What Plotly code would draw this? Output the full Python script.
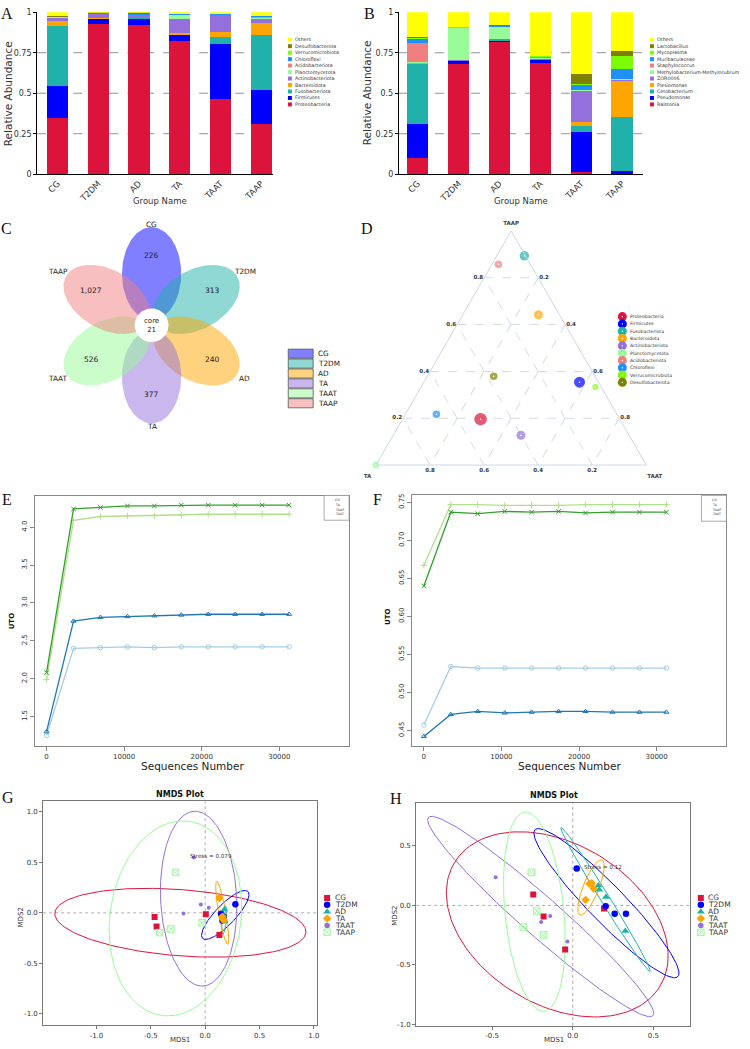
import numpy as np
import plotly.graph_objects as go

W, H = 750, 1049
FONT = "DejaVu Sans"

# ---------------- data ----------------
groups = ["CG", "T2DM", "AD", "TA", "TAAT", "TAAP"]

# Panel A: phylum level (stack order bottom -> top)
phyla = ["Proteobacteria", "Firmicutes", "Fusobacteriota", "Bacteroidota",
         "Actinobacteriota", "Planctomycetota", "Acidobacteriota", "Chloroflexi",
         "Verrucomicrobiota", "Desulfobacterota", "Others"]
proteobacteria = [0.347, 0.929, 0.922, 0.820, 0.465, 0.312]
firmicutes = [0.196, 0.028, 0.039, 0.041, 0.341, 0.210]
fusobacteriota = [0.373, 0.002, 0.002, 0.002, 0.041, 0.335]
bacteroidota = [0.027, 0.006, 0.003, 0.008, 0.033, 0.075]
actinobacteriota = [0.026, 0.026, 0.018, 0.087, 0.104, 0.029]
planctomycetota = [0.002, 0.001, 0.001, 0.024, 0.002, 0.002]
acidobacteriota = [0.001, 0.001, 0.001, 0.002, 0.001, 0.010]
chloroflexi = [0.001, 0.001, 0.002, 0.006, 0.001, 0.003]
verrucomicrobiota = [0.001, 0.001, 0.001, 0.001, 0.002, 0.001]
desulfobacterota = [0.001, 0.001, 0.005, 0.002, 0.002, 0.002]
phylum_others = [0.025, 0.004, 0.006, 0.007, 0.008, 0.021]

# Panel B: genus level
genera = ["Ralstonia", "Pseudomonas", "Cetobacterium", "Plesiomonas", "ZOR0006",
          "Methylobacterium-Methylorubrum", "Staphylococcus", "Muribaculaceae",
          "Mycoplasma", "Lactobacillus", "Others"]
ralstonia = [0.098, 0.678, 0.820, 0.684, 0.014, 0.003]
pseudomonas = [0.212, 0.022, 0.005, 0.020, 0.247, 0.016]
cetobacterium = [0.374, 0.001, 0.004, 0.003, 0.039, 0.332]
plesiomonas = [0.003, 0.001, 0.001, 0.002, 0.022, 0.227]
zor0006 = [0.002, 0.004, 0.002, 0.003, 0.192, 0.008]
methylobacterium = [0.002, 0.196, 0.078, 0.010, 0.006, 0.002]
staphylococcus = [0.122, 0.003, 0.002, 0.004, 0.002, 0.002]
muribaculaceae = [0.024, 0.002, 0.006, 0.002, 0.030, 0.057]
mycoplasma = [0.006, 0.001, 0.001, 0.001, 0.002, 0.084]
lactobacillus = [0.006, 0.001, 0.001, 0.002, 0.065, 0.028]
genus_others = [0.151, 0.091, 0.080, 0.269, 0.381, 0.241]

taxon_colors = ["#DC143C", "#0000FF", "#20B2AA", "#FFA500", "#9370DB", "#98FB98",
                "#F08080", "#1E90FF", "#7CFC00", "#808000", "#FFFF00"]

# Panel C: flower Venn
venn_sets = ["CG", "T2DM", "AD", "TA", "TAAT", "TAAP"]
venn_unique = [226, 313, 240, 377, 526, 1027]
venn_core = 21
venn_rgb = [(0, 0, 255), (32, 178, 170), (255, 165, 0), (147, 112, 219), (152, 251, 152), (240, 128, 128)]

# Panel D: ternary (TAAP top, TA left, TAAT right)
tern_taap = [0.196, 0.354, 0.894, 0.642, 0.127, 0.000, 0.858, 0.217, 0.333, 0.379]
tern_ta = [0.515, 0.070, 0.004, 0.078, 0.400, 1.000, 0.118, 0.668, 0.022, 0.375]
tern_taat = [0.289, 0.576, 0.102, 0.280, 0.473, 0.000, 0.024, 0.115, 0.645, 0.246]
tern_size = [12.5, 11, 9.5, 9, 9, 7, 7.5, 7.5, 6, 7.5]

# Panels E/F: rarefaction
rare_groups = ["CG", "TA", "TAAP", "TAAT"]
rare_colors = ["#A6CEE3", "#1F78B4", "#B2DF8A", "#33A02C"]
rare_symbols = ["circle-open", "triangle-up-open", "cross-thin-open", "x-thin-open"]
seq_depth = [1, 3474, 6947, 10420, 13893, 17366, 20839, 24312, 27785, 31258]
e_cg = [1.25, 2.40, 2.41, 2.42, 2.41, 2.42, 2.42, 2.42, 2.42, 2.42]
e_ta = [1.30, 2.76, 2.81, 2.82, 2.83, 2.84, 2.85, 2.85, 2.85, 2.85]
e_taap = [1.99, 4.09, 4.14, 4.15, 4.15, 4.16, 4.17, 4.17, 4.17, 4.17]
e_taat = [2.08, 4.24, 4.26, 4.28, 4.28, 4.29, 4.29, 4.29, 4.29, 4.29]
f_cg = [0.457, 0.534, 0.532, 0.532, 0.532, 0.532, 0.532, 0.532, 0.532, 0.532]
f_ta = [0.442, 0.471, 0.475, 0.473, 0.474, 0.475, 0.475, 0.474, 0.474, 0.474]
f_taap = [0.667, 0.747, 0.747, 0.746, 0.746, 0.746, 0.747, 0.747, 0.747, 0.747]
f_taat = [0.640, 0.737, 0.735, 0.738, 0.737, 0.738, 0.736, 0.737, 0.737, 0.737]

# Panels G/H: NMDS
nmds_colors = ["#DC143C", "#0000FF", "#20B2AA", "#FFA500", "#9370DB", "#98FB98"]
nmds_symbols = ["square", "circle", "triangle-up", "diamond", "circle", "square-x-open"]
nmds_sizes = [6, 6.5, 7, 6.5, 4, 6.5]

g_cg_x = [-0.465, -0.447, 0.006, 0.131]; g_cg_y = [-0.042, -0.134, -0.013, -0.219]
g_t2dm_x = [0.278, 0.147, 0.159, 0.170]; g_t2dm_y = [0.085, -0.010, -0.075, -0.040]
g_ad_x = [0.177, 0.168, 0.179, 0.165]; g_ad_y = [0.033, -0.030, -0.080, -0.050]
g_ta_x = [0.131, 0.156, 0.163, 0.170]; g_ta_y = [0.147, -0.040, -0.060, -0.070]
g_taat_x = [-0.104, -0.199, -0.040, 0.033]; g_taat_y = [0.546, -0.007, 0.082, 0.049]
g_taap_x = [-0.272, -0.419, -0.315, -0.028]; g_taap_y = [0.399, -0.196, -0.160, -0.098]
g_ell_cx = [-0.228, 0.185, 0.175, 0.157, -0.060, -0.274]
g_ell_cy = [-0.098, -0.021, -0.070, 0.000, 0.140, -0.055]
g_ell_a = [1.159, 0.312, 0.140, 0.315, 0.865, 0.968]
g_ell_b = [0.327, 0.095, 0.020, 0.033, 0.350, 0.603]
g_ell_deg = [-4.85, 48.6, 85.0, 99.2, 92.5, 83.2]
g_stress = "Stress = 0.079"

h_cg_x = [-0.245, -0.181, -0.047, 0.194]; h_cg_y = [0.092, -0.092, -0.370, -0.025]
h_t2dm_x = [0.025, 0.204, 0.260, 0.330]; h_t2dm_y = [0.311, -0.006, -0.070, -0.070]
h_ad_x = [0.159, 0.165, 0.206, 0.326]; h_ad_y = [0.167, 0.133, 0.072, -0.214]
h_ta_x = [0.080, 0.103, 0.118, 0.130]; h_ta_y = [0.047, 0.183, 0.186, 0.142]
h_taat_x = [-0.478, -0.196, -0.140, -0.033]; h_taat_y = [0.238, -0.139, -0.089, -0.303]
h_taap_x = [-0.257, -0.223, -0.307, -0.181]; h_taap_y = [0.278, -0.047, -0.181, -0.248]
h_ell_cx = [-0.096, 0.209, 0.203, 0.113, -0.199, -0.238]
h_ell_cy = [-0.159, 0.019, 0.051, 0.151, -0.093, -0.052]
h_ell_a = [0.856, 0.761, 0.664, 0.241, 1.087, 0.839]
h_ell_b = [0.588, 0.128, 0.030, 0.050, 0.140, 0.183]
h_ell_deg = [125.0, -54.9, -65.5, 74.0, -50.4, 93.9]
h_stress = "Stress = 0.12"

# ---------------- helpers ----------------
def dom_x(x0, x1):
    return [x0 / W, x1 / W]

def dom_y(top, bottom):
    return [1 - bottom / H, 1 - top / H]

def ellipse_xy(cx, cy, a, b, deg, n=160):
    t = np.linspace(0, 2 * np.pi, n)
    th = np.deg2rad(deg)
    x = cx + a * np.cos(t) * np.cos(th) - b * np.sin(t) * np.sin(th)
    y = cy + a * np.cos(t) * np.sin(th) + b * np.sin(t) * np.cos(th)
    return x, y

annotations = []
shapes = []

def text(t, x, y, size, color="#333", bold=False, angle=0, family=FONT,
         xanchor="center", yanchor="middle", xref="x8", yref="y8"):
    annotations.append(dict(text=t, x=x, y=y, xref=xref, yref=yref, showarrow=False,
                            font=dict(size=size, color=color, family=family,
                                      weight="bold" if bold else "normal"),
                            textangle=angle, xanchor=xanchor, yanchor=yanchor,
                            borderpad=0))

fig = go.Figure()

# ---------------- A & B: stacked bars ----------------
phylum_values = [proteobacteria, firmicutes, fusobacteriota, bacteroidota, actinobacteriota,
                 planctomycetota, acidobacteriota, chloroflexi, verrucomicrobiota,
                 desulfobacterota, phylum_others]
genus_values = [ralstonia, pseudomonas, cetobacterium, plesiomonas, zor0006, methylobacterium,
                staphylococcus, muribaculaceae, mycoplasma, lactobacillus, genus_others]
for i, name in enumerate(phyla):
    fig.add_trace(go.Bar(x=groups, y=phylum_values[i], name=name, width=0.52,
                         marker=dict(color=taxon_colors[i], line=dict(width=0)),
                         xaxis="x", yaxis="y"))
for i, name in enumerate(genera):
    fig.add_trace(go.Bar(x=groups, y=genus_values[i], name=name, width=0.52,
                         marker=dict(color=taxon_colors[i], line=dict(width=0)),
                         xaxis="x2", yaxis="y2"))
for ax in ["", "2"]:
    for v in [0.25, 0.5, 0.75]:
        shapes.append(dict(type="line", xref=f"x{ax} domain", yref=f"y{ax}", x0=0, x1=1,
                           y0=v, y1=v, line=dict(color="#777", width=0.8, dash="dash"),
                           layer="below"))

# legends A/B
for i, name in enumerate(reversed(phyla)):
    yy = 36 + i * 6.53
    col = taxon_colors[len(phyla) - 1 - i]
    shapes.append(dict(type="rect", xref="x8", yref="y8", x0=288.7, x1=292.7, y0=yy - 2,
                       y1=yy + 2, fillcolor=col, line=dict(width=0)))
    text(name, 294.7, yy, 4.8, xanchor="left")
for i, name in enumerate(reversed(genera)):
    yy = 36 + i * 6.53
    col = taxon_colors[len(genera) - 1 - i]
    shapes.append(dict(type="rect", xref="x8", yref="y8", x0=651.7, x1=655.7, y0=yy - 2,
                       y1=yy + 2, fillcolor=col, line=dict(width=0)))
    text(name, 657.3, yy, 4.8, xanchor="left")

text("Relative Abundance", 8, 90, 10.5, angle=-90)
text("Relative Abundance", 368, 90, 10.5, angle=-90)
text("Group Name", 160, 198.5, 8.5)
text("Group Name", 522, 198.5, 8.5)

# ---------------- C: flower venn ----------------
core_x, core_y = 152.0, 324.0
petal_d, petal_a, petal_b = 52.0, 47.0, 29.7
petal_angles = [90, 30, -30, -90, -150, 150]
for i, name in enumerate(venn_sets):
    th = np.deg2rad(petal_angles[i])
    cx = core_x + petal_d * np.cos(th)
    cy = core_y - petal_d * np.sin(th)
    ex, ey = ellipse_xy(cx, cy, petal_a, petal_b, -petal_angles[i])
    r, g, b = venn_rgb[i]
    fig.add_trace(go.Scatter(x=ex, y=ey, mode="lines", fill="toself",
                             fillcolor=f"rgba({r},{g},{b},0.5)", line=dict(width=0),
                             xaxis="x3", yaxis="y3", hoverinfo="skip"))
cx_c, cy_c = ellipse_xy(core_x, core_y, 17, 17, 0)
fig.add_trace(go.Scatter(x=cx_c, y=cy_c, mode="lines", fill="toself", fillcolor="white",
                         line=dict(width=0), xaxis="x3", yaxis="y3", hoverinfo="skip"))
for i, name in enumerate(venn_sets):
    th = np.deg2rad(petal_angles[i])
    text(f"{venn_unique[i]:,}", core_x + 70 * np.cos(th), core_y - 70 * np.sin(th), 7.5,
         color="#222", xref="x3", yref="y3")
    rr = 102 if abs(np.sin(th)) > 0.99 else 108
    text(name, core_x + rr * np.cos(th), core_y - rr * np.sin(th), 7.3, color="#222",
         xref="x3", yref="y3")
text(f"core<br>{venn_core}", core_x, core_y, 7, color="#222", xref="x3", yref="y3")
for i, name in enumerate(venn_sets):
    r, g, b = venn_rgb[i]
    sw = f"rgb({int(255 - 0.5 * (255 - r))},{int(255 - 0.5 * (255 - g))},{int(255 - 0.5 * (255 - b))})"
    yy = 352.7 + i * 10
    shapes.append(dict(type="rect", xref="x8", yref="y8", x0=289, x1=314, y0=yy - 4.6,
                       y1=yy + 4.6, fillcolor=sw, line=dict(color="#555", width=0.8)))
    text(name, 318, yy, 7.3, color="#222", xanchor="left")

# ---------------- D: ternary ----------------
fig.add_trace(go.Scatterternary(a=tern_taap, b=tern_ta, c=tern_taat, mode="markers",
                                marker=dict(size=tern_size, color=taxon_colors[:10],
                                            line=dict(width=0)),
                                cliponaxis=False, subplot="ternary", hoverinfo="skip"))
fig.add_trace(go.Scatterternary(a=tern_taap, b=tern_ta, c=tern_taat, mode="markers",
                                marker=dict(size=1.6, color="white", line=dict(width=0)),
                                cliponaxis=False, subplot="ternary", hoverinfo="skip"))
tern_leg_x = [624] * 10
tern_leg_y = [315.3 + i * 7.37 for i in range(10)]
fig.add_trace(go.Scatter(x=tern_leg_x, y=tern_leg_y, mode="markers",
                         marker=dict(size=9, color=taxon_colors[:10], line=dict(width=0)),
                         xaxis="x8", yaxis="y8", hoverinfo="skip"))
fig.add_trace(go.Scatter(x=tern_leg_x, y=tern_leg_y, mode="markers",
                         marker=dict(size=1.4, color="white", line=dict(width=0)),
                         xaxis="x8", yaxis="y8", hoverinfo="skip"))
for i, name in enumerate(phyla[:10]):
    text(name, 630.5, tern_leg_y[i], 4.6, xanchor="left")

def tern_axis(title):
    return dict(title=dict(text=title, font=dict(size=5.5, color="#444", family=FONT, weight="bold")),
                tickvals=[0.2, 0.4, 0.6, 0.8], ticktext=["0.2", "0.4", "0.6", "0.8"],
                tickfont=dict(size=5.5, color="#333", family=FONT, weight="bold"),
                ticks="", showgrid=True, gridcolor="#D3DAEA", griddash="dash", gridwidth=0.8,
                showline=True, linecolor="#CDD5E6", linewidth=1, min=0)

# ---------------- E/F: rarefaction ----------------
e_series = [e_cg, e_ta, e_taap, e_taat]
f_series = [f_cg, f_ta, f_taap, f_taat]
for series, xa, ya in [(e_series, "x4", "y4"), (f_series, "x5", "y5")]:
    for i, name in enumerate(rare_groups):
        fig.add_trace(go.Scatter(x=seq_depth, y=series[i], mode="lines+markers", name=name,
                                 line=dict(color=rare_colors[i], width=1.3),
                                 marker=dict(symbol=rare_symbols[i], size=4.5, color=rare_colors[i],
                                             line=dict(color=rare_colors[i], width=1)),
                                 xaxis=xa, yaxis=ya, hoverinfo="skip"))
for (bx0, bx1, by0, by1, lx0, lx1, tx) in [(325, 350, 495.7, 520.7, 326.7, 333.3, 335.3),
                                            (703.3, 728.3, 495.7, 521.7, 705, 711.7, 713.3)]:
    shapes.append(dict(type="rect", xref="x8", yref="y8", x0=bx0, x1=bx1, y0=by0, y1=by1,
                       fillcolor="white", line=dict(color="#888", width=0.7)))
    for i, name in enumerate(rare_groups):
        yy = by0 + 5 + i * 4.6
        fig.add_trace(go.Scatter(x=[lx0, (lx0 + lx1) / 2, lx1], y=[yy, yy, yy], mode="lines",
                                 line=dict(color=rare_colors[i], width=0.9),
                                 xaxis="x8", yaxis="y8", hoverinfo="skip"))
        fig.add_trace(go.Scatter(x=[(lx0 + lx1) / 2], y=[yy], mode="markers",
                                 marker=dict(symbol=rare_symbols[i], size=2.5, color=rare_colors[i],
                                             line=dict(color=rare_colors[i], width=0.6)),
                                 xaxis="x8", yaxis="y8", hoverinfo="skip"))
        text(name, tx, yy, 3.2, xanchor="left")
text("UTO", 11.7, 623, 7, color="#111", bold=True, angle=-90)
text("UTO", 388.3, 618, 7, color="#111", bold=True, angle=-90)
text("Sequences Number", 192.7, 768.3, 10.5, color="#222")
text("Sequences Number", 571, 768.3, 10.5, color="#222")

# ---------------- G/H: NMDS ----------------
g_pts = [(g_cg_x, g_cg_y), (g_t2dm_x, g_t2dm_y), (g_ad_x, g_ad_y), (g_ta_x, g_ta_y),
         (g_taat_x, g_taat_y), (g_taap_x, g_taap_y)]
h_pts = [(h_cg_x, h_cg_y), (h_t2dm_x, h_t2dm_y), (h_ad_x, h_ad_y), (h_ta_x, h_ta_y),
         (h_taat_x, h_taat_y), (h_taap_x, h_taap_y)]
for pts, ell, xa, ya in [(g_pts, (g_ell_cx, g_ell_cy, g_ell_a, g_ell_b, g_ell_deg), "x6", "y6"),
                         (h_pts, (h_ell_cx, h_ell_cy, h_ell_a, h_ell_b, h_ell_deg), "x7", "y7")]:
    shapes.append(dict(type="line", xref=xa, yref=f"{ya} domain", x0=0, x1=0, y0=0, y1=1,
                       line=dict(color="#999", width=0.8, dash="dot"), layer="below"))
    shapes.append(dict(type="line", xref=f"{xa} domain", yref=ya, x0=0, x1=1, y0=0, y1=0,
                       line=dict(color="#999", width=0.8, dash="dot"), layer="below"))
    for i, name in enumerate(groups):
        ex, ey = ellipse_xy(ell[0][i], ell[1][i], ell[2][i], ell[3][i], ell[4][i])
        fig.add_trace(go.Scatter(x=ex, y=ey, mode="lines", line=dict(color=nmds_colors[i], width=1),
                                 xaxis=xa, yaxis=ya, hoverinfo="skip"))
    for i, name in enumerate(groups):
        fig.add_trace(go.Scatter(x=pts[i][0], y=pts[i][1], mode="markers", name=name,
                                 marker=dict(symbol=nmds_symbols[i], size=nmds_sizes[i],
                                             color=nmds_colors[i],
                                             line=dict(width=1 if "open" in nmds_symbols[i] else 0,
                                                       color=nmds_colors[i])),
                                 xaxis=xa, yaxis=ya, hoverinfo="skip"))
for mx, tx in [(328, 334.5), (702.7, 709)]:
    for i, name in enumerate(groups):
        yy = 901.7 + i * 6.93
        fig.add_trace(go.Scatter(x=[mx], y=[yy], mode="markers",
                                 marker=dict(symbol=nmds_symbols[i], size=max(nmds_sizes[i], 5.5),
                                             color=nmds_colors[i],
                                             line=dict(width=1 if "open" in nmds_symbols[i] else 0,
                                                       color=nmds_colors[i])),
                                 xaxis="x8", yaxis="y8", hoverinfo="skip"))
        text(name, tx, yy, 7.5, xanchor="left")
text("NMDS Plot", 180, 797, 8, color="#111", bold=True)
text("NMDS Plot", 555, 798, 8, color="#111", bold=True)
text("MDS1", 180, 1044.5, 7, color="#333")
text("MDS1", 555, 1044.5, 7, color="#333")
text("MDS2", 20.7, 921.7, 7, color="#333", angle=-90)
text("MDS2", 395.7, 920, 7, color="#333", angle=-90)
text(g_stress, 0.056, 0.563, 5.6, xref="x6", yref="y6")
text(h_stress, 0.186, 0.322, 5.6, xref="x7", yref="y7")

# panel letters
for letter, lx, ly in [("A", 7, 10), ("B", 370, 10), ("C", 7, 226), ("D", 368, 226),
                       ("E", 7, 500), ("F", 379, 500), ("G", 8, 800), ("H", 397, 801)]:
    text(letter, lx, ly, 16, color="#111", family="Liberation Serif")

# ---------------- layout ----------------
bar_y = dict(range=[0, 1], showline=True, linecolor="black", linewidth=1.2, ticks="outside",
             ticklen=3, tickcolor="black", tickvals=[0, 0.25, 0.5, 0.75, 1],
             ticktext=["0", "0.25", "0.5", "0.75", "1"], tickfont=dict(size=8, color="#333"),
             showgrid=False, zeroline=False)
bar_x = dict(showline=True, linecolor="black", linewidth=1.2, ticks="", tickangle=-45,
             tickfont=dict(size=8.5, color="#333"), showgrid=False, zeroline=False)
rare_x = dict(range=[-1500, 38985], tickvals=[0, 10000, 20000, 30000], tickformat="d",
              ticks="outside", ticklen=4, tickcolor="#888", showline=True, mirror=True,
              linecolor="#888", linewidth=1, showgrid=False, zeroline=False,
              tickfont=dict(size=7, color="#333"))
rare_y = dict(ticks="outside", ticklen=4, tickcolor="#888", showline=True, mirror=True,
              linecolor="#888", linewidth=1, showgrid=False, zeroline=False, tickangle=-90,
              tickfont=dict(size=7, color="#333"))
nm_ax = dict(ticks="outside", ticklen=3, tickcolor="#777", showline=True, mirror=True,
             linecolor="#777", linewidth=1, showgrid=False, zeroline=False,
             tickfont=dict(size=7, color="#333"))

fig.update_layout(
    width=W, height=H, margin=dict(l=0, r=0, t=0, b=0), paper_bgcolor="white",
    plot_bgcolor="rgba(0,0,0,0)", showlegend=False, barmode="stack", bargap=0.48,
    font=dict(family=FONT, color="#333"),
    xaxis=dict(domain=dom_x(37.3, 273.3), range=[-0.5, 5.28], anchor="y", **bar_x),
    yaxis=dict(domain=dom_y(8.3, 171.7), anchor="x", **bar_y),
    xaxis2=dict(domain=dom_x(400, 645), range=[-0.46, 5.52], anchor="y2", **bar_x),
    yaxis2=dict(domain=dom_y(8.3, 171.7), anchor="x2", **bar_y),
    xaxis3=dict(domain=dom_x(20, 290), range=[20, 290], anchor="y3", visible=False),
    yaxis3=dict(domain=dom_y(215, 445), range=[445, 215], anchor="x3", visible=False),
    xaxis4=dict(domain=dom_x(35, 350), anchor="y4", **rare_x),
    yaxis4=dict(domain=dom_y(496, 748), range=[1.117, 4.414], anchor="x4",
                tickvals=[1.5, 2.0, 2.5, 3.0, 3.5, 4.0], tickformat=".1f", **rare_y),
    xaxis5=dict(domain=dom_x(413.3, 728.3), anchor="y5", **rare_x),
    yaxis5=dict(domain=dom_y(495.7, 748), range=[0.430, 0.759], anchor="x5",
                tickvals=[0.45, 0.50, 0.55, 0.60, 0.65, 0.70, 0.75], tickformat=".2f", **rare_y),
    xaxis6=dict(domain=dom_x(43.3, 318.3), range=[-1.49, 1.033], anchor="y6",
                tickvals=[-1, -0.5, 0, 0.5, 1], ticktext=["-1.0", "-0.5", "0.0", "0.5", "1.0"], **nm_ax),
    yaxis6=dict(domain=dom_y(804.3, 1030), range=[-1.111, 1.102], anchor="x6",
                tickvals=[-1, -0.5, 0, 0.5, 1], ticktext=["-1.0", "-0.5", "0.0", "0.5", "1.0"], **nm_ax),
    xaxis7=dict(domain=dom_x(417.3, 692.3), range=[-0.971, 0.730], anchor="y7",
                tickvals=[-0.5, 0, 0.5], ticktext=["-0.5", "0.0", "0.5"], **nm_ax),
    yaxis7=dict(domain=dom_y(805.7, 1030.7), range=[-1.012, 0.863], anchor="x7",
                tickvals=[-1, -0.5, 0, 0.5], ticktext=["-1.0", "-0.5", "0.0", "0.5"], **nm_ax),
    xaxis8=dict(domain=[0, 1], range=[0, W], anchor="y8", visible=False, fixedrange=True),
    yaxis8=dict(domain=[0, 1], range=[H, 0], anchor="x8", visible=False, fixedrange=True),
    ternary=dict(domain=dict(x=dom_x(377, 648), y=dom_y(228, 466)), bgcolor="white", sum=1,
                 aaxis=tern_axis("TAAP"), baxis=tern_axis("TA"), caxis=tern_axis("TAAT")),
    annotations=annotations, shapes=shapes,
)

fig.write_html("out.html", config={"displayModeBar": False},
               post_script="document.body.style.margin='0';")
